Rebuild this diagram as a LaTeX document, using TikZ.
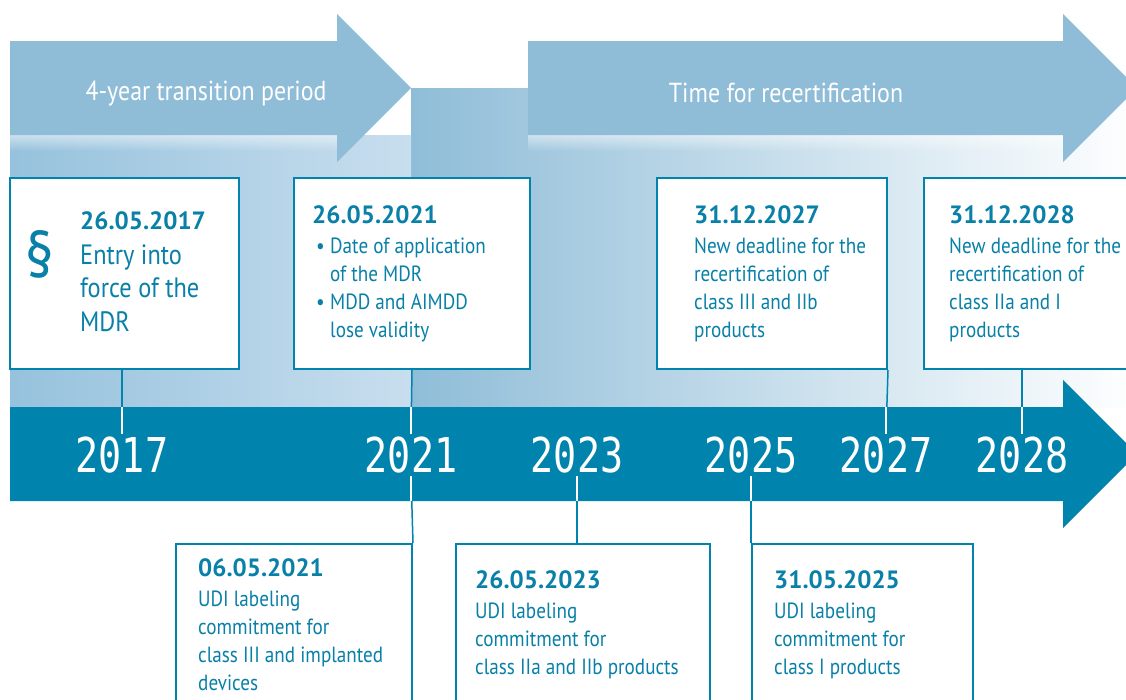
\documentclass[tikz,border=0pt]{standalone}
\usepackage{fontspec}
\setmainfont{PT Sans}[FakeStretch=0.87]
\newfontfamily\datefont{PT Sans}
\newfontfamily\yearfont{DejaVu Sans Mono}[FakeStretch=0.8]
\usetikzlibrary{positioning,fadings}

\definecolor{mdrteal}{RGB}{0,131,173}
\definecolor{mdrtext}{RGB}{8,128,168}
\definecolor{arrowblue}{RGB}{143,189,216}
\definecolor{bgleft}{RGB}{150,194,221}
\definecolor{bgmid}{RGB}{200,222,238}
\tikzfading[name=fadedown, top color=transparent!50, bottom color=transparent!100]
\newcommand{\mdrdate}[1]{{\datefont\bfseries\fontsize{25}{30}\selectfont #1}}
\newcommand{\mdrbullet}{\hspace*{4pt}\makebox[14pt][l]{\textbullet}}

\begin{document}
\begin{tikzpicture}[
			x=1pt,y=-1pt,
			box/.style={draw=mdrteal,line width=2pt,fill=white,inner sep=0pt,anchor=north west,minimum width=#1},
			upper/.style={box=#1,minimum height=191pt},
			lower/.style={box=#1,minimum height=162pt},
			txt/.style={text=mdrtext,align=left,inner sep=0pt,anchor=west,font=\fontsize{22}{28}\selectfont},
			year/.style={text=white,inner sep=3pt,font=\yearfont\fontsize{48}{48}\selectfont},
			title/.style={text=white,font=\fontsize{27.5}{27.5}\selectfont},
			tick/.style={draw=mdrteal,line width=1.5pt},
			tickin/.style={draw=white,line width=1.5pt}
			]

			\useasboundingbox (0,0) rectangle (1126,699);
			\clip (0,0) rectangle (1126,699);

			% background
			\shade[left color=arrowblue,right color=white] (411,88) rectangle (1140,407);
			\shade[left color=bgleft,right color=bgmid] (10,135) rectangle (411,407);
			\fill[white,path fading=fadedown] (10,135) rectangle (337,151);
			\fill[white,path fading=fadedown] (528,135) rectangle (1063,151);

			% period arrows
			\fill[arrowblue] (10,41) -- (337,41) -- (337,14) -- (411,88) -- (337,162) -- (337,135) -- (10,135) -- cycle;
			\fill[arrowblue] (528,41) -- (1063,41) -- (1063,14) -- (1137,88) -- (1063,162) -- (1063,135) -- (528,135) -- cycle;
			\node[title] (trans) at (206,94) {4-year transition period};
			\node[title] (recert) at (786,93) {Time for recertification};

			% time axis
			\fill[mdrteal] (10,407) -- (1063,407) -- (1063,380) -- (1137,454) -- (1063,528) -- (1063,501) -- (10,501) -- cycle;
			\coordinate (axtop) at (0,407);
			\coordinate (axbot) at (0,501);

			\foreach \yr/\xx in {2017/122,2021/411,2023/577,2025/751,2027/886,2028/1022}
				\node[year] (yr\yr) at (\xx,455) {\yr};

			% boxes above
			\node[upper=229] (e2017) at (9,177) {};
			\node[upper=236] (e2021) at (293,177) {};
			\node[upper=230] (e2027) at (656,177) {};
			\node[upper=215] (e2028) at (923,177) {};

			% boxes below
			\node[lower=236] (u2021) at (175,543) {};
			\node[lower=254] (u2023) at (455,543) {};
			\node[lower=221] (u2025) at (751,543) {};

			% connectors
			\draw[tick] (yr2017.north |- e2017.south) -- (yr2017.north);
			\draw[tick] (e2021.south) -- (yr2021.north);
			\draw[tick] (e2027.south east) -- (yr2027.north);
			\draw[tick] (yr2028.north |- e2028.south) -- (yr2028.north);
			\draw[tick] (yr2021.south) -- (u2021.north east);
			\draw[tick] (yr2023.south) -- (yr2023.south |- u2023.north);
			\draw[tick] (yr2025.south) -- (u2025.north west);
			\foreach \yr in {2017,2021,2027,2028}
				\draw[tickin] (yr\yr.north |- axtop) -- (yr\yr.north);
			\foreach \yr in {2021,2023,2025}
				\draw[tickin] (yr\yr.south |- axbot) -- (yr\yr.south);

			% texts
			\node[text=mdrtext,inner sep=0pt,font=\fontsize{66}{66}\selectfont] (para) at ([xshift=31,yshift=19]e2017.west) {\S};
			\node[txt,font=\fontsize{28}{33.5}\selectfont] (t2017) at ([xshift=71,yshift=2]e2017.west)
				{\mdrdate{26.05.2017}\\[1pt]Entry into\\force of the\\MDR};
			\node[txt] (t2021) at ([xshift=19]e2021.west)
				{\mdrdate{26.05.2021}\\[2pt]\mdrbullet Date of application\\\hspace*{18pt}of the MDR\\\mdrbullet MDD and AIMDD\\\hspace*{18pt}lose validity};
			\node[txt] (t2027) at ([xshift=38]e2027.west)
				{\mdrdate{31.12.2027}\\[2pt]New deadline for the\\recertification of\\class III and IIb\\products};
			\node[txt] (t2028) at ([xshift=26]e2028.west)
				{\mdrdate{31.12.2028}\\[2pt]New deadline for the\\recertification of\\class IIa and I\\products};
			\node[txt] (t2021u) at ([xshift=23]u2021.west)
				{\mdrdate{06.05.2021}\\[2pt]UDI labeling\\commitment for\\class III and implanted\\devices};
			\node[txt] (t2023u) at ([xshift=20]u2023.west)
				{\mdrdate{26.05.2023}\\[2pt]UDI labeling\\commitment for\\class IIa and IIb products};
			\node[txt] (t2025u) at ([xshift=23]u2025.west)
				{\mdrdate{31.05.2025}\\[2pt]UDI labeling\\commitment for\\class I products};

		\end{tikzpicture}
\end{document}
